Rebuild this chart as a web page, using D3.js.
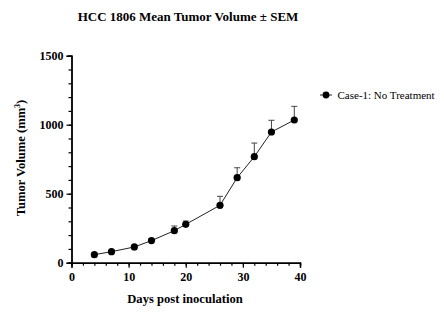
<!DOCTYPE html>
<html>
<head>
<meta charset="utf-8">
<script src="https://cdn.jsdelivr.net/npm/d3@7"></script>
<style>
  body { margin: 0; background: #fff; }
  svg { display: block; font-family: "Liberation Serif", "Times New Roman", serif; }
</style>
</head>
<body>
<svg id="chart" width="444" height="331"></svg>
<script>
// tumor growth, mean and SEM per measurement day
var days = [4, 7, 11, 14, 18, 20, 26, 29, 32, 35, 39];
var meanVolume = [58, 80, 114, 160, 232, 278, 416, 616, 768, 947, 1034];
var semVolume = [8, 9, 10, 12, 34, 24, 65, 72, 99, 85, 99];
var xTicks = [0, 10, 20, 30, 40];
var yTicks = [0, 500, 1000, 1500];
var seriesName = "Case-1: No Treatment";

var svg = d3.select("#chart");

var x = d3.scaleLinear().domain([0, 40]).range([71.5, 300]);
var y = d3.scaleLinear().domain([0, 1500]).range([262.7, 55.7]);

var data = days.map(function(d, i) {
    return { day: d, mean: meanVolume[i], sem: semVolume[i] };
});

// minor ticks first, then the labelled major ticks on top
var xAxisMinor = d3.axisBottom(x).tickValues(d3.range(0, 41, 2)).tickSize(3).tickFormat("");
var yAxisMinor = d3.axisLeft(y).tickValues(d3.range(0, 1501, 100)).tickSize(3).tickFormat("");

svg.append("g")
    .attr("transform", "translate(0," + y(0) + ")")
    .call(xAxisMinor);
svg.append("g")
    .attr("transform", "translate(" + x(0) + ",0)")
    .call(yAxisMinor);

svg.append("g")
    .attr("transform", "translate(0," + y(0) + ")")
    .call(d3.axisBottom(x).tickValues(xTicks).tickSize(5).tickPadding(5));
svg.append("g")
    .attr("transform", "translate(" + x(0) + ",0)")
    .call(d3.axisLeft(y).tickValues(yTicks).tickSize(5).tickPadding(3).tickFormat(d3.format("d")));

svg.selectAll("g").attr("font-family", null);
svg.selectAll(".domain").style("stroke", "#000").style("stroke-width", 1.4);
svg.selectAll(".tick line").style("stroke", "#000").style("stroke-width", 1.2);
svg.selectAll(".tick text")
    .style("font-size", "12px")
    .style("font-weight", "bold")
    .style("fill", "#000");

// error bars (upper half only)
var capW = 3;
var err = svg.append("g").selectAll("g")
    .data(data)
    .enter()
    .append("g");

err.append("line")
    .attr("x1", d => x(d.day))
    .attr("x2", d => x(d.day))
    .attr("y1", d => y(d.mean))
    .attr("y2", d => y(d.mean + d.sem))
    .style("stroke", "#444")
    .style("stroke-width", 1);

err.append("line")
    .attr("x1", d => x(d.day) - capW)
    .attr("x2", d => x(d.day) + capW)
    .attr("y1", d => y(d.mean + d.sem))
    .attr("y2", d => y(d.mean + d.sem))
    .style("stroke", "#444")
    .style("stroke-width", 1);

var line = d3.line()
    .x(d => x(d.day))
    .y(d => y(d.mean));

svg.append("path")
    .datum(data)
    .attr("d", line)
    .style("fill", "none")
    .style("stroke", "#222")
    .style("stroke-width", 1);

svg.append("g").selectAll("circle")
    .data(data)
    .enter()
    .append("circle")
    .attr("cx", d => x(d.day))
    .attr("cy", d => y(d.mean))
    .attr("r", 3.6)
    .style("fill", "#000");

// titles
svg.append("text")
    .attr("x", 188)
    .attr("y", 21)
    .attr("text-anchor", "middle")
    .style("font-size", "13px")
    .style("font-weight", "bold")
    .text("HCC 1806 Mean Tumor Volume \u00b1 SEM");

svg.append("text")
    .attr("x", 185)
    .attr("y", 303)
    .attr("text-anchor", "middle")
    .style("font-size", "12.6px")
    .style("font-weight", "bold")
    .text("Days post inoculation");

var yl = svg.append("text")
    .attr("transform", "translate(25,158) rotate(-90)")
    .attr("text-anchor", "middle")
    .style("font-size", "12.6px")
    .style("font-weight", "bold");
yl.append("tspan").text("Tumor Volume (mm");
yl.append("tspan").attr("dy", -5).style("font-size", "8px").text("3");
yl.append("tspan").attr("dy", 5).text(")");

// legend
var lg = svg.append("g").attr("transform", "translate(326,95)");
lg.append("line")
    .attr("x1", -6).attr("x2", 6)
    .style("stroke", "#222").style("stroke-width", 1);
lg.append("circle").attr("r", 3.4).style("fill", "#000");
lg.append("text")
    .attr("x", 11.5)
    .attr("dy", "0.35em")
    .style("font-size", "11px")
    .text(seriesName);
</script>
</body>
</html>
